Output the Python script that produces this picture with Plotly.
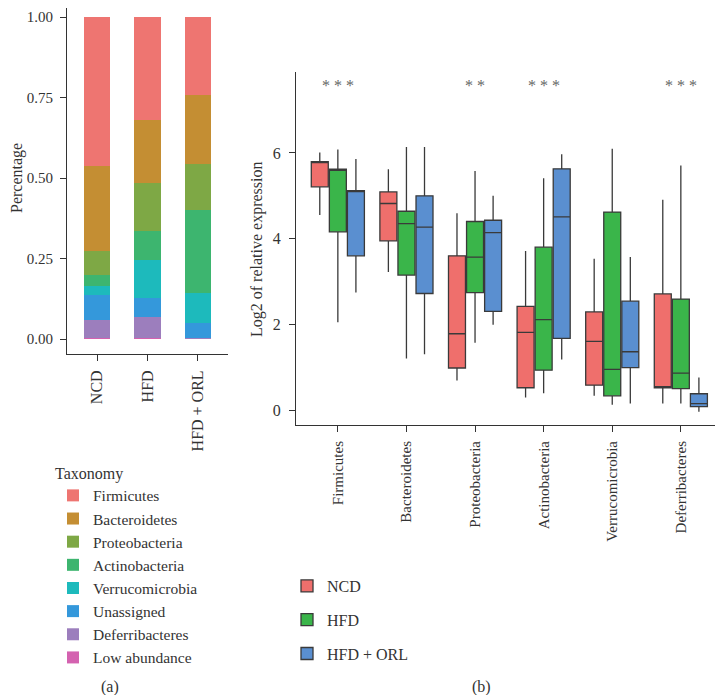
import plotly.graph_objects as go

# page body has an 8px margin, so the figure is drawn 8px in from the window edge
OFF = 8
W, H = 723 - OFF, 695 - OFF
FONT = "Liberation Serif"

# ---------------- (a) stacked composition ----------------
groups = ["NCD", "HFD", "HFD + ORL"]
low_abundance = [0.002, 0.002, 0.002]
deferribacteres_pct = [0.056, 0.065, 0.002]
unassigned = [0.078, 0.060, 0.046]
verrucomicrobia_pct = [0.028, 0.119, 0.094]
actinobacteria_pct = [0.035, 0.090, 0.256]
proteobacteria_pct = [0.075, 0.148, 0.143]
bacteroidetes_pct = [0.263, 0.197, 0.216]
firmicutes_pct = [0.463, 0.319, 0.241]
taxa_bottom_up = ["Low abundance", "Deferribacteres", "Unassigned", "Verrucomicrobia",
                  "Actinobacteria", "Proteobacteria", "Bacteroidetes", "Firmicutes"]
taxa_values = [low_abundance, deferribacteres_pct, unassigned, verrucomicrobia_pct,
               actinobacteria_pct, proteobacteria_pct, bacteroidetes_pct, firmicutes_pct]
taxa_colors = ["#D462B0", "#9C7EBD", "#3498DB", "#1DBABC",
               "#3DB56F", "#7EA845", "#C48E33", "#EE7571"]
pct_ticks = [0, 0.25, 0.5, 0.75, 1.0]

# ---------------- (b) box plots ----------------
phyla = ["Firmicutes", "Bacteroidetes", "Proteobacteria", "Actinobacteria",
         "Verrucomicrobia", "Deferribacteres"]
box_groups = ["NCD", "HFD", "HFD + ORL"]
box_colors = ["#EF6F6C", "#3AB54A", "#5A8FD0"]
ncd_upper = [6.01, 5.62, 4.59, 3.71, 3.53, 4.91]
ncd_q3 = [5.80, 5.09, 3.60, 2.42, 2.29, 2.71]
ncd_median = [5.80, 4.82, 1.78, 1.81, 1.60, 0.52]
ncd_q1 = [5.21, 3.95, 0.98, 0.52, 0.58, 0.52]
ncd_lower = [4.55, 3.22, 0.69, 0.29, 0.33, 0.15]
hfd_upper = [6.08, 6.14, 5.58, 5.41, 6.10, 5.71]
hfd_q3 = [5.62, 4.64, 4.40, 3.80, 4.62, 2.59]
hfd_median = [5.62, 4.35, 3.57, 2.11, 0.95, 0.86]
hfd_q1 = [4.16, 3.15, 2.74, 0.93, 0.33, 0.50]
hfd_lower = [2.05, 1.20, 1.57, 0.39, 0.12, 0.15]
orl_upper = [5.86, 6.14, 5.00, 5.97, 3.57, 0.76]
orl_q3 = [5.12, 5.00, 4.43, 5.63, 2.54, 0.38]
orl_median = [5.12, 4.27, 4.14, 4.51, 1.36, 0.15]
orl_q1 = [3.60, 2.72, 2.30, 1.67, 0.99, 0.08]
orl_lower = [2.74, 1.30, 1.99, 1.18, 0.15, -0.04]
box_stats = [
    (ncd_lower, ncd_q1, ncd_median, ncd_q3, ncd_upper),
    (hfd_lower, hfd_q1, hfd_median, hfd_q3, hfd_upper),
    (orl_lower, orl_q1, orl_median, orl_q3, orl_upper),
]
significance = ["* * *", "", "* *", "* * *", "", "* * *"]
sig_y = 7.58
expr_ticks = [0, 2, 4, 6]

fig = go.Figure()

n = len(taxa_bottom_up)
for i, (name, vals, col) in enumerate(zip(taxa_bottom_up, taxa_values, taxa_colors)):
    fig.add_trace(go.Bar(
        x=groups, y=vals, name=name, marker=dict(color=col, line=dict(width=0)),
        width=0.52, xaxis="x", yaxis="y", legend="legend", legendrank=n - i,
    ))

for gi, (g, col, st) in enumerate(zip(box_groups, box_colors, box_stats)):
    lo, q1, med, q3, up = st
    fig.add_trace(go.Box(
        x=phyla, lowerfence=lo, q1=q1, median=med, q3=q3, upperfence=up,
        name=g, fillcolor=col, line=dict(color="#3a3a3a", width=1.3),
        whiskerwidth=0, boxpoints=False, xaxis="x2", yaxis="y2",
        legend="legend2", legendgroup=g, offsetgroup=g,
    ))


def px_x(p):
    return min(1.0, max(0.0, (p - OFF) / W))


def px_y(p):
    return min(1.0, max(0.0, 1 - (p - OFF) / H))


def axis_style(size):
    return dict(showline=True, linecolor="#333", linewidth=1, ticks="outside",
                ticklen=6, tickcolor="#333", showgrid=False, zeroline=False,
                tickfont=dict(family=FONT, size=size, color="#333"))


annotations = [
    dict(text="Percentage", x=px_x(17), y=px_y(178), xref="paper", yref="paper",
         xanchor="center", yanchor="middle",
         textangle=-90, showarrow=False, font=dict(family=FONT, size=16, color="#333")),
    dict(text="Log2 of relative expression", x=px_x(257), y=px_y(249), xref="paper", yref="paper",
         xanchor="center", yanchor="middle",
         textangle=-90, showarrow=False, font=dict(family=FONT, size=16, color="#333")),
    dict(text="(a)", x=px_x(110), y=px_y(687), xref="paper", yref="paper",
         xanchor="center", yanchor="middle",
         showarrow=False, font=dict(family=FONT, size=16, color="#333")),
    dict(text="(b)", x=px_x(482), y=px_y(687), xref="paper", yref="paper",
         xanchor="center", yanchor="middle",
         showarrow=False, font=dict(family=FONT, size=16, color="#333")),
]
for ph, s in zip(phyla, significance):
    if s:
        annotations.append(dict(text=s, x=ph, y=sig_y, xref="x2", yref="y2", showarrow=False,
                                font=dict(family=FONT, size=16, color="#666")))

fig.update_layout(
    width=W, height=H, margin=dict(l=0, r=0, t=0, b=0),
    paper_bgcolor="white", plot_bgcolor="white",
    barmode="stack", boxmode="group", boxgap=0.21, boxgroupgap=0.06,
    font=dict(family=FONT, color="#333"),
    xaxis=dict(domain=[px_x(67), px_x(228)], range=[-0.6, 2.6], tickangle=-90,
               anchor="y", ticklabelstandoff=3, **axis_style(16)),
    yaxis=dict(domain=[px_y(354), px_y(8)], range=[-0.0466, 1.028], tickvals=pct_ticks,
               tickformat=".2f", anchor="x", ticklabelstandoff=4, **axis_style(15)),
    xaxis2=dict(domain=[px_x(296), px_x(722)], range=[-0.61, 5.6], tickangle=-90,
                anchor="y2", ticklabelstandoff=3, **axis_style(15)),
    yaxis2=dict(domain=[px_y(425), px_y(72)], range=[-0.35, 7.89], tickvals=expr_ticks,
                anchor="x2", ticklabelstandoff=5, **axis_style(16)),
    legend=dict(title=dict(text="Taxonomy", font=dict(family=FONT, size=16)),
                font=dict(family=FONT, size=15.5, color="#333"),
                x=px_x(53), y=px_y(458), xanchor="left", yanchor="top",
                bgcolor="rgba(0,0,0,0)", traceorder="normal"),
    legend2=dict(font=dict(family=FONT, size=16, color="#333"),
                 x=px_x(287), y=px_y(569), xanchor="left", yanchor="top",
                 bgcolor="rgba(0,0,0,0)", traceorder="grouped", tracegroupgap=10),
    annotations=annotations,
)

fig.write_html("out.html")
